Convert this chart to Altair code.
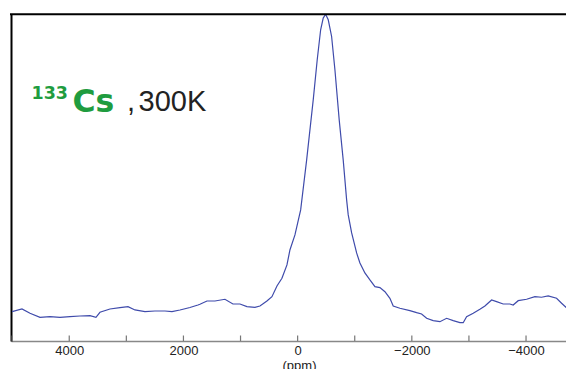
import altair as alt
import pandas as pd

# chemical shift (ppm) and normalised intensity
ppm = [5000, 4828, 4687, 4512, 4337, 4162, 3987, 3812, 3637, 3532, 3462, 3287,
       3112, 2971, 2849, 2674, 2499, 2324, 2201, 2061, 1886, 1746, 1711, 1588,
       1448, 1273, 1133, 1010, 888, 748, 660, 538, 450, 362, 275, 187, 135, 47,
       -53, -158, -273, -343, -403, -448, -490, -536, -595, -653, -728, -798,
       -858, -886, -946, -1033, -1091, -1178, -1266, -1354, -1441, -1529, -1616,
       -1674, -1791, -1966, -2084, -2171, -2259, -2374, -2492, -2609, -2725,
       -2842, -2900, -2959, -3075, -3192, -3280, -3397, -3484, -3600, -3717,
       -3775, -3863, -4010, -4155, -4272, -4388, -4535, -4623, -4698, -4768,
       -4838]
intensity = [8.97, 9.80, 8.48, 7.26, 7.44, 7.26, 7.44, 7.66, 7.75, 7.26, 8.79,
             9.80, 10.20, 10.51, 9.50, 8.97, 9.19, 9.19, 8.97, 9.50, 10.26, 11.03,
             11.24, 12.25, 12.25, 12.77, 11.33, 11.33, 10.51, 10.32, 10.72, 12.25,
             13.57, 16.85, 19.20, 23.28, 27.87, 32.47, 40.13, 55.44, 73.82, 86.07,
             95.26, 98.84, 100.0, 98.32, 93.21, 83.01, 67.69, 55.44, 43.19, 38.6,
             33.08, 26.95, 23.89, 20.83, 18.68, 16.63, 16.33, 15.10, 13.08, 10.72,
             10.02, 9.28, 8.67, 8.27, 6.95, 6.22, 5.91, 6.95, 6.22, 5.61, 5.61,
             7.44, 8.48, 9.71, 10.72, 12.56, 12.04, 11.33, 11.33, 11.03, 12.34,
             12.77, 13.57, 13.39, 13.78, 13.08, 11.55, 10.32, 11.03, 11.33]

tick_values = [5000, 4000, 3000, 2000, 1000, 0, -1000, -2000, -3000, -4000]
label_values = [4000, 2000, 0, -2000, -4000]
title_parts = ["133", "Cs", ",", "300K"]
x_title = "(ppm)"

W, H = 555, 326.7
FONT = "Liberation Sans"
WIDE = "DejaVu Sans"

df = pd.DataFrame({"ppm": ppm, "I": intensity})
xscale = alt.Scale(domain=[5020, -4700], nice=False, zero=False)
yscale = alt.Scale(domain=[0, 100], nice=False, zero=False)

line = alt.Chart(df).mark_line(color="#3f4bab", strokeWidth=1.2, clip=True).encode(
    x=alt.X("ppm:Q", scale=xscale,
            axis=alt.Axis(values=label_values, format="d", ticks=False, grid=False,
                          domainColor="#888888", domainWidth=1.6,
                          labelFont=FONT, labelFontSize=13, labelColor="#222222",
                          labelPadding=3, labelFlush=False,
                          title=x_title, titleFont=FONT, titleFontSize=13,
                          titleFontWeight="normal", titleColor="#222222",
                          titleX=288, titleY=18.5, titleBaseline="top")),
    y=alt.Y("I:Q", scale=yscale,
            axis=alt.Axis(labels=False, ticks=False, grid=False, title=None,
                          domainColor="#000000", domainWidth=2)),
)

ticks = alt.Chart(pd.DataFrame({"t": tick_values})).mark_rule(
    color="#777777", strokeWidth=1.2).encode(
    x=alt.X("t:Q", scale=xscale),
    y=alt.value(H), y2=alt.value(H - 5.5))

top = alt.Chart(pd.DataFrame({"a": [0]})).mark_rule(
    color="#000000", strokeWidth=2).encode(
    x=alt.value(-1), x2=alt.value(W), y=alt.value(0))


def label(s, x, y, size, color, font, weight="normal"):
    return alt.Chart(pd.DataFrame({"s": [s]})).mark_text(
        align="left", baseline="alphabetic", font=font, fontSize=size,
        fontWeight=weight, color=color).encode(
        text="s:N", x=alt.value(x), y=alt.value(y))


green = "#1f9c3f"
dark = "#222222"
texts = [
    label(title_parts[0], 20.5, 85, 17.5, green, WIDE, "bold"),
    label(title_parts[1], 61.5, 97.7, 31.5, green, WIDE, "bold"),
    label(title_parts[2], 116, 96.7, 29, dark, FONT),
    label(title_parts[3], 127.5, 96.7, 29, dark, FONT),
]

chart = alt.layer(line, ticks, top, *texts).properties(
    width=W, height=H,
    padding={"left": 3, "top": 6.3, "right": 0, "bottom": 40},
    autosize=alt.AutoSizeParams(type="none"),
    background="white",
).configure_view(stroke=None)

chart.save("out.html", embed_options={"renderer": "svg", "actions": False})
